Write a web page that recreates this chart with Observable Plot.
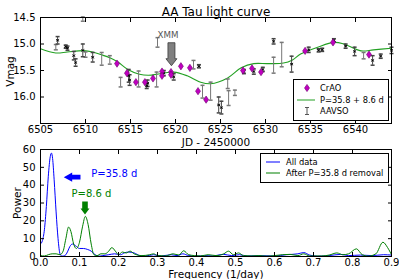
<!DOCTYPE html>
<html><head><meta charset="utf-8">
<script src="https://cdn.jsdelivr.net/npm/d3@7"></script>
<script src="https://cdn.jsdelivr.net/npm/@observablehq/plot@0.6"></script>
<style>
body{margin:0;background:#fff;}
#chart{position:relative;width:399px;height:279px;overflow:hidden;font-family:"DejaVu Sans",sans-serif;background:#fff;}
#topPanel,#botPanel{position:absolute;left:0;}
#topPanel{top:0;}
#botPanel{top:148px;}
.legend{position:absolute;background:#fff;border:1px solid #000;font-size:8.3px;color:#000;}
.legend svg{position:absolute;}
.legend span{position:absolute;line-height:10px;white-space:nowrap;}
</style>
</head><body>
<div id="chart">
  <div id="topPanel"></div>
  <div id="botPanel"></div>
</div>
<script>
// ---------- top panel data ----------
const titleText = "AA Tau light curve";
const topXLabel = "JD - 2450000";
const topYLabel = "Vmag";
const topXTicks = [6505, 6510, 6515, 6520, 6525, 6530, 6535, 6540];
const topYTicks = [14.5, 15.0, 15.5, 16.0];

const craoJD  = [6513.5, 6514.6, 6515.6, 6516.6, 6517.5, 6518.5, 6518.5, 6519.5, 6519.5, 6520.6, 6521.6, 6522.5, 6523.4, 6527.5, 6528.5, 6529.5, 6534.4, 6537.5, 6541.5];
const craoMag = [15.37, 15.55, 15.72, 15.72, 15.65, 15.52, 15.60, 15.53, 15.58, 15.42, 15.45, 15.89, 16.05, 15.50, 15.46, 15.53, 15.13, 14.97, 15.20];

const aavsoJD   = [6506.7, 6506.9, 6507.8, 6508.0, 6508.7, 6508.9, 6509.7, 6509.7, 6510.0, 6510.8, 6511.8, 6512.7, 6513.9, 6514.8, 6514.9, 6515.9, 6516.8, 6516.9, 6517.9, 6518.0, 6518.7, 6519.8, 6522.0, 6522.6, 6523.0, 6523.9, 6524.8, 6525.1, 6525.8, 6525.9, 6526.6, 6527.6, 6528.7, 6529.7, 6530.9, 6530.9, 6531.8, 6532.9, 6534.8, 6535.9, 6536.3, 6537.6, 6538.9, 6539.9, 6540.9, 6541.9, 6542.8, 6544.0];
const aavsoMag  = [15.06, 14.93, 15.05, 15.08, 15.22, 15.35, 14.53, 15.12, 15.20, 15.25, 15.28, 15.30, 15.72, 15.60, 15.68, 15.66, 15.79, 15.74, 15.67, 14.97, 15.55, 15.62, 15.39, 15.42, 15.90, 15.89, 16.15, 16.20, 15.75, 16.02, 15.92, 15.52, 15.52, 15.48, 14.95, 15.40, 15.20, 15.38, 15.11, 15.12, 15.11, 14.93, 15.04, 15.14, 15.22, 15.31, 15.23, 15.12];
const aavsoErr  = [0.05, 0.07, 0.03, 0.04, 0.08, 0.07, 0.04, 0.12, 0.05, 0.09, 0.12, 0.08, 0.09, 0.12, 0.10, 0.15, 0.05, 0.06, 0.14, 0.09, 0.05, 0.06, 0.08, 0.03, 0.12, 0.17, 0.15, 0.12, 0.09, 0.14, 0.05, 0.04, 0.05, 0.04, 0.05, 0.15, 0.23, 0.15, 0.05, 0.03, 0.03, 0.03, 0.04, 0.08, 0.06, 0.09, 0.04, 0.06];
const aavsoDark = [0, 1, 1, 1, 1, 1, 0, 1, 0, 1, 0, 0, 0, 1, 1, 0, 1, 1, 0, 0, 1, 1, 0, 1, 0, 0, 1, 1, 0, 0, 0, 1, 1, 1, 1, 0, 0, 1, 1, 1, 1, 1, 1, 1, 0, 1, 1, 1];

const modelJD  = [6505.0, 6506.7, 6508.0, 6509.8, 6510.8, 6511.7, 6512.7, 6513.6, 6514.7, 6516.0, 6517.0, 6518.3, 6519.8, 6521.3, 6522.8, 6523.9, 6525.8, 6527.3, 6528.7, 6530.2, 6532.0, 6533.0, 6533.9, 6535.8, 6537.6, 6538.7, 6540.6, 6542.0, 6544.0];
const modelMag = [15.09, 15.17, 15.15, 15.125, 15.15, 15.20, 15.26, 15.34, 15.48, 15.57, 15.59, 15.56, 15.53, 15.60, 15.72, 15.75, 15.64, 15.45, 15.37, 15.37, 15.36, 15.30, 15.19, 15.06, 14.97, 15.00, 15.13, 15.11, 15.08];

const xmmLabel = ["XMM"];
const xmmTextJD = [6518.0], xmmTextMag = [14.84];
const xmmArrowJD = [6519.55], xmmArrowMag = [15.41];

const topLegendLabels = ["CrAO", "P=35.8 + 8.6 d", "AAVSO"];

// ---------- bottom panel data ----------
const botXLabel = "Frequency (1/day)";
const botYLabel = "Power";
const botXTicks = [0, 0.1, 0.2, 0.3, 0.4, 0.5, 0.6, 0.7, 0.8, 0.9];
const botYTicks = [0, 10, 20, 30, 40, 50, 60];

const freqAll  = [0.000, 0.005, 0.010, 0.015, 0.020, 0.025, 0.028, 0.031, 0.035, 0.040, 0.045, 0.050, 0.055, 0.060, 0.065, 0.070, 0.075, 0.082, 0.090, 0.100, 0.110, 0.120, 0.130, 0.140, 0.150, 0.160, 0.175, 0.190, 0.205, 0.215, 0.225, 0.240, 0.255, 0.270, 0.290, 0.310, 0.335, 0.350, 0.365, 0.380, 0.400, 0.420, 0.440, 0.470, 0.490, 0.510, 0.530, 0.560, 0.600, 0.630, 0.660, 0.675, 0.690, 0.710, 0.740, 0.770, 0.790, 0.820, 0.850, 0.880, 0.900];
const powerAll = [7, 9, 15, 28, 45, 56, 58, 55, 43, 25, 10, 1.5, 0.2, 0.3, 1, 3, 5.5, 7, 6, 4.5, 4.5, 4, 3, 1, 0.2, 0.5, 1, 1.5, 1, 2, 2.5, 2, 0.5, 0.3, 1, 0.3, 1, 0.5, 1.5, 0.5, 0.2, 0.5, 0.3, 1.2, 0.5, 1, 0.3, 0.5, 0.3, 1, 1.5, 2.2, 0.8, 0.2, 0.5, 1.2, 0.5, 0.8, 0.5, 1, 0.8];

const freqRem  = [0.000, 0.010, 0.020, 0.030, 0.040, 0.050, 0.058, 0.065, 0.072, 0.078, 0.085, 0.092, 0.100, 0.108, 0.115, 0.122, 0.130, 0.137, 0.145, 0.155, 0.165, 0.175, 0.183, 0.192, 0.200, 0.210, 0.220, 0.230, 0.240, 0.260, 0.280, 0.290, 0.300, 0.320, 0.340, 0.355, 0.367, 0.380, 0.395, 0.410, 0.430, 0.450, 0.470, 0.482, 0.495, 0.508, 0.520, 0.540, 0.560, 0.580, 0.600, 0.620, 0.640, 0.660, 0.675, 0.690, 0.720, 0.740, 0.760, 0.775, 0.790, 0.810, 0.825, 0.840, 0.860, 0.878, 0.890, 0.900];
const powerRem = [0.5, 0.3, 1, 1.5, 1.5, 1, 3, 10, 16.5, 14, 7, 4.5, 8, 17, 22.5, 18, 7, 1, 0.5, 1.5, 1.5, 3, 5, 3, 1, 2.5, 2, 3, 1.5, 0.5, 1, 1.5, 0.5, 0.3, 1.5, 0.8, 3.2, 1, 0.5, 0.3, 1, 0.5, 1.5, 3, 1, 2, 0.5, 0.3, 0.5, 0.2, 0.5, 1, 1.2, 0.5, 1.5, 0.3, 0.3, 0.8, 2, 1, 1.5, 4.3, 1, 0.2, 1.5, 8, 5, 1];

const blueNote = ["P=35.8 d"], blueNoteF = [0.130], blueNoteP = [46.4];
const blueArrowF = [0.0597], blueArrowP = [44.5];
const greenNote = ["P=8.6 d"], greenNoteF = [0.0795], greenNoteP = [35.1];
const greenArrowF = [0.1141], greenArrowP = [23.6];

const botLegendLabels = ["All data", "After P=35.8 d removal"];

// ---------- build tables ----------
const crao = craoJD.map((jd, i) => ({jd, mag: craoMag[i]}));
const aavso = aavsoJD.map((jd, i) => ({jd, mag: aavsoMag[i], err: aavsoErr[i], dark: aavsoDark[i]}));
const model = modelJD.map((jd, i) => ({jd, mag: modelMag[i]}));
const allData = freqAll.map((f, i) => ({f, p: powerAll[i]}));
const remData = freqRem.map((f, i) => ({f, p: powerRem[i]}));

// ---------- custom symbols ----------
const thinDiamond = {draw(ctx, size) {
  const r = Math.sqrt(size / Math.PI);
  ctx.moveTo(0, -1.4 * r); ctx.lineTo(0.95 * r, 0); ctx.lineTo(0, 1.4 * r); ctx.lineTo(-0.95 * r, 0); ctx.closePath();
}};
const capSym = {draw(ctx) { ctx.moveTo(-2, 0); ctx.lineTo(2, 0); }};
const crossSym = {draw(ctx) { ctx.moveTo(-1.5, -1); ctx.lineTo(1.5, 1); ctx.moveTo(-1.5, 1); ctx.lineTo(1.5, -1); }};
const arrowDownBig = {draw(ctx) {
  ctx.moveTo(0, 0); ctx.lineTo(-5.5, -7); ctx.lineTo(-3.5, -7); ctx.lineTo(-3.5, -23);
  ctx.lineTo(3.5, -23); ctx.lineTo(3.5, -7); ctx.lineTo(5.5, -7); ctx.closePath();
}};
const arrowLeft = {draw(ctx) {
  ctx.moveTo(0, 0); ctx.lineTo(8.4, -4.7); ctx.lineTo(8.4, -2.3); ctx.lineTo(16.7, -2.3);
  ctx.lineTo(16.7, 2.3); ctx.lineTo(8.4, 2.3); ctx.lineTo(8.4, 4.7); ctx.closePath();
}};
const arrowDownSmall = {draw(ctx) {
  ctx.moveTo(0, 0); ctx.lineTo(-4.5, -6); ctx.lineTo(-2.8, -6); ctx.lineTo(-2.8, -13);
  ctx.lineTo(2.8, -13); ctx.lineTo(2.8, -6); ctx.lineTo(4.5, -6); ctx.closePath();
}};

const font = "DejaVu Sans";
const tickMarks = (fx, fy, xTicks, yTicks) => [
  Plot.axisX(xTicks, {anchor: "bottom", tickSize: -4, tickPadding: 6, tickFormat: fx}),
  Plot.axisX(xTicks, {anchor: "top", tickSize: -4, tickFormat: () => ""}),
  Plot.axisY(yTicks, {anchor: "left", tickSize: -4, tickPadding: 9, tickFormat: fy}),
  Plot.axisY(yTicks, {anchor: "right", tickSize: -4, tickFormat: () => ""})
];

// ---------- top plot ----------
const topPlot = Plot.plot({
  width: 399, height: 148,
  marginLeft: 40, marginRight: 8, marginTop: 17, marginBottom: 25,
  style: {fontFamily: font, fontSize: "10px", overflow: "visible", background: "transparent", color: "#000"},
  x: {domain: [6505, 6544], label: null},
  y: {domain: [14.5, 16.5], reverse: true, label: null},
  marks: [
    Plot.line(model, {x: "jd", y: "mag", stroke: "#22a022", strokeWidth: 1.1, curve: "catmull-rom"}),
    Plot.ruleX(aavso.filter(d => !d.dark), {x: "jd", y1: d => d.mag - d.err, y2: d => d.mag + d.err, stroke: "#777", strokeWidth: 1}),
    Plot.dot(aavso.filter(d => !d.dark), {x: "jd", y: d => d.mag - d.err, symbol: capSym, r: 2, fill: "none", stroke: "#777"}),
    Plot.dot(aavso.filter(d => !d.dark), {x: "jd", y: d => d.mag + d.err, symbol: capSym, r: 2, fill: "none", stroke: "#777"}),
    Plot.ruleX(aavso.filter(d => d.dark), {x: "jd", y1: d => d.mag - d.err, y2: d => d.mag + d.err, stroke: "#444", strokeWidth: 1}),
    Plot.dot(aavso.filter(d => d.dark), {x: "jd", y: d => d.mag - d.err, symbol: capSym, r: 2, fill: "none", stroke: "#444"}),
    Plot.dot(aavso.filter(d => d.dark), {x: "jd", y: d => d.mag + d.err, symbol: capSym, r: 2, fill: "none", stroke: "#444"}),
    Plot.dot(aavso.filter(d => d.dark), {x: "jd", y: "mag", symbol: crossSym, r: 2, fill: "none", stroke: "#000", strokeWidth: 0.9}),
    Plot.dot(crao, {x: "jd", y: "mag", symbol: thinDiamond, r: 2.6, fill: "#c000c0", stroke: "#700070", strokeWidth: 0.6}),
    Plot.dot(xmmArrowJD.map((jd, i) => ({jd, mag: xmmArrowMag[i]})), {x: "jd", y: "mag", symbol: arrowDownBig, r: 3, fill: "#808080", stroke: "#3a3a3a", strokeWidth: 0.8}),
    Plot.text(xmmLabel, {x: (d, i) => xmmTextJD[i], y: (d, i) => xmmTextMag[i], text: d => d, textAnchor: "start", fill: "#555", fontSize: 8.7}),
    Plot.frame({stroke: "#000", strokeWidth: 1}),
    ...tickMarks(d3.format("d"), d3.format(".1f"), topXTicks, topYTicks),
    Plot.text([titleText], {frameAnchor: "top", dy: -5.8, textAnchor: "middle", lineAnchor: "middle", fontSize: 12, fill: "#000"}),
    Plot.text([topXLabel], {frameAnchor: "bottom", dy: 19.5, textAnchor: "middle", lineAnchor: "middle", fontSize: 10.5, fill: "#000"}),
    Plot.text([topYLabel], {frameAnchor: "left", dx: -29.5, dy: 1, rotate: -90, textAnchor: "middle", lineAnchor: "middle", fontSize: 10.5, fill: "#000"})
  ]
});
document.getElementById("topPanel").appendChild(topPlot);

// ---------- bottom plot ----------
const botPlot = Plot.plot({
  width: 399, height: 131,
  marginLeft: 40, marginRight: 8, marginTop: 1, marginBottom: 23,
  style: {fontFamily: font, fontSize: "10px", overflow: "visible", background: "transparent", color: "#000"},
  x: {domain: [0, 0.9], label: null},
  y: {domain: [0, 60], label: null},
  marks: [
    Plot.line(allData, {x: "f", y: "p", stroke: "#0000ff", strokeWidth: 1, curve: "monotone-x"}),
    Plot.line(remData, {x: "f", y: "p", stroke: "#008000", strokeWidth: 1, curve: "monotone-x"}),
    Plot.dot(blueArrowF.map((f, i) => ({f, p: blueArrowP[i]})), {x: "f", y: "p", symbol: arrowLeft, r: 3, fill: "#0000ff", stroke: "none"}),
    Plot.text(blueNote, {x: (d, i) => blueNoteF[i], y: (d, i) => blueNoteP[i], text: d => d, textAnchor: "start", fill: "#0000ff", fontSize: 10}),
    Plot.dot(greenArrowF.map((f, i) => ({f, p: greenArrowP[i]})), {x: "f", y: "p", symbol: arrowDownSmall, r: 3, fill: "#008000", stroke: "none"}),
    Plot.text(greenNote, {x: (d, i) => greenNoteF[i], y: (d, i) => greenNoteP[i], text: d => d, textAnchor: "start", fill: "#008000", fontSize: 10}),
    Plot.frame({stroke: "#000", strokeWidth: 1}),
    ...tickMarks(d3.format(".1f"), d3.format("d"), botXTicks, botYTicks),
    Plot.text([botXLabel], {frameAnchor: "bottom", dy: 17.8, textAnchor: "middle", lineAnchor: "middle", fontSize: 10.5, fill: "#000"}),
    Plot.text([botYLabel], {frameAnchor: "left", dx: -22.5, dy: 0, rotate: -90, textAnchor: "middle", lineAnchor: "middle", fontSize: 10.5, fill: "#000"})
  ]
});
document.getElementById("botPanel").appendChild(botPlot);

// ---------- legends ----------
function makeLegend(left, topPx, w, h, rows) {
  const L = document.createElement("div");
  L.className = "legend";
  Object.assign(L.style, {left: left + "px", top: topPx + "px", width: w + "px", height: h + "px"});
  rows.forEach(r => {
    const s = document.createElementNS("http://www.w3.org/2000/svg", "svg");
    s.setAttribute("width", 20); s.setAttribute("height", 12);
    s.style.left = r.sx + "px"; s.style.top = (r.y - 6) + "px";
    s.innerHTML = r.swatch;
    L.appendChild(s);
    const t = document.createElement("span");
    t.textContent = r.label;
    t.style.left = r.tx + "px"; t.style.top = (r.y - 5) + "px";
    L.appendChild(t);
  });
  document.getElementById("chart").appendChild(L);
}
makeLegend(293, 79, 94, 40, [
  {y: 8, sx: 3, tx: 26, label: topLegendLabels[0], swatch: '<path d="M10,2.4 L12.5,6 L10,9.6 L7.5,6Z" fill="#c000c0" stroke="#700070" stroke-width="0.6"/>'},
  {y: 19.5, sx: 3, tx: 26, label: topLegendLabels[1], swatch: '<line x1="0" y1="6" x2="18" y2="6" stroke="#22a022" stroke-opacity="0.5" stroke-width="2"/>'},
  {y: 31, sx: 3, tx: 26, label: topLegendLabels[2], swatch: '<path d="M10,2.5V9.5M8,2.5H12M8,9.5H12" stroke="#555" fill="none"/>'}
]);
makeLegend(260, 153, 127, 28, [
  {y: 8, sx: 4, tx: 25, label: botLegendLabels[0], swatch: '<line x1="1" y1="6" x2="15" y2="6" stroke="#0000ff" stroke-opacity="0.5" stroke-width="2"/>'},
  {y: 19, sx: 4, tx: 25, label: botLegendLabels[1], swatch: '<line x1="1" y1="6" x2="15" y2="6" stroke="#008000" stroke-opacity="0.5" stroke-width="2"/>'}
]);
</script>
</body></html>
